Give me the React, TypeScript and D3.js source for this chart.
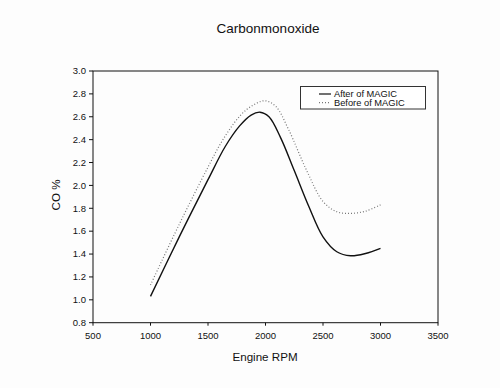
import React from "react";
import * as d3 from "d3";

const xTicks = [500, 1000, 1500, 2000, 2500, 3000, 3500];
const yTicks = [0.8, 1.0, 1.2, 1.4, 1.6, 1.8, 2.0, 2.2, 2.4, 2.6, 2.8, 3.0];

const afterRpm = [1000, 1250, 1500, 1650, 1775, 1875, 1952, 2030, 2130, 2250, 2375, 2500, 2620, 2740, 2870, 3000];
const afterCO = [1.03, 1.55, 2.05, 2.34, 2.52, 2.615, 2.64, 2.6, 2.42, 2.13, 1.82, 1.55, 1.42, 1.385, 1.405, 1.45];

const beforeRpm = [1000, 1250, 1500, 1630, 1780, 1890, 1995, 2090, 2200, 2358, 2500, 2620, 2740, 2870, 3000];
const beforeCO = [1.13, 1.66, 2.16, 2.4, 2.61, 2.7, 2.74, 2.69, 2.49, 2.13, 1.86, 1.77, 1.755, 1.775, 1.83];

const seriesNames = ["After of MAGIC", "Before of MAGIC"];

const W = 500;
const H = 388;
const left = 93, right = 438, top = 71, bottom = 322.7;

export default function App() {
  const x = d3.scaleLinear().domain([500, 3500]).range([left, right]);
  const y = d3.scaleLinear().domain([0.8, 3.0]).range([bottom, top]);
  const line = d3
    .line<[number, number]>()
    .x((d) => x(d[0]))
    .y((d) => y(d[1]))
    .curve(d3.curveCatmullRom.alpha(0.5));
  const afterPts = afterRpm.map((r, i) => [r, afterCO[i]] as [number, number]);
  const beforePts = beforeRpm.map((r, i) => [r, beforeCO[i]] as [number, number]);
  const font = "Liberation Sans, Arial, sans-serif";

  return (
    <svg
      width={W}
      height={H}
      style={{ position: "absolute", left: 0, top: 0, background: "#fff" }}
      fontFamily={font}
    >
      <rect x={0} y={0} width={W} height={H} fill="#fdfdfd" />
      <text x={268} y={33} textAnchor="middle" fontSize={13.5} fill="#111">
        Carbonmonoxide
      </text>
      {/* frame */}
      <rect x={left} y={top} width={right - left} height={bottom - top} fill="none" stroke="#111" strokeWidth={1} />
      {/* y ticks */}
      {yTicks.map((t) => (
        <g key={"y" + t}>
          <line x1={left - 4} x2={left} y1={y(t)} y2={y(t)} stroke="#111" />
          <text x={86} y={y(t) + 3.3} textAnchor="end" fontSize={9.5} fill="#111">
            {t.toFixed(1)}
          </text>
        </g>
      ))}
      {/* x ticks */}
      {xTicks.map((t) => (
        <g key={"x" + t}>
          <line x1={x(t)} x2={x(t)} y1={bottom} y2={bottom + 3} stroke="#111" />
          <text x={x(t)} y={339} textAnchor="middle" fontSize={9.5} fill="#111">
            {t}
          </text>
        </g>
      ))}
      <text x={265} y={361} textAnchor="middle" fontSize={11.6} fill="#111">
        Engine RPM
      </text>
      <text
        transform={`translate(60,195) rotate(-90)`}
        textAnchor="middle"
        fontSize={11.6}
        fill="#111"
      >
        CO %
      </text>
      {/* lines */}
      <path d={line(beforePts) || ""} fill="none" stroke="#777" strokeWidth={1.2} strokeDasharray="1,2" />
      <path d={line(afterPts) || ""} fill="none" stroke="#111" strokeWidth={1.4} />
      {/* legend */}
      <rect x={300.5} y={86.5} width={125} height={22.5} fill="#fff" stroke="#333" strokeWidth={1} />
      <line x1={319} x2={331} y1={94} y2={94} stroke="#111" strokeWidth={1.2} />
      <line x1={319} x2={331} y1={102.7} y2={102.7} stroke="#777" strokeWidth={1.2} strokeDasharray="1,2" />
      <text x={334} y={97.3} fontSize={9.3} fill="#111">
        {seriesNames[0]}
      </text>
      <text x={334} y={106.1} fontSize={9.3} fill="#111">
        {seriesNames[1]}
      </text>
    </svg>
  );
}
